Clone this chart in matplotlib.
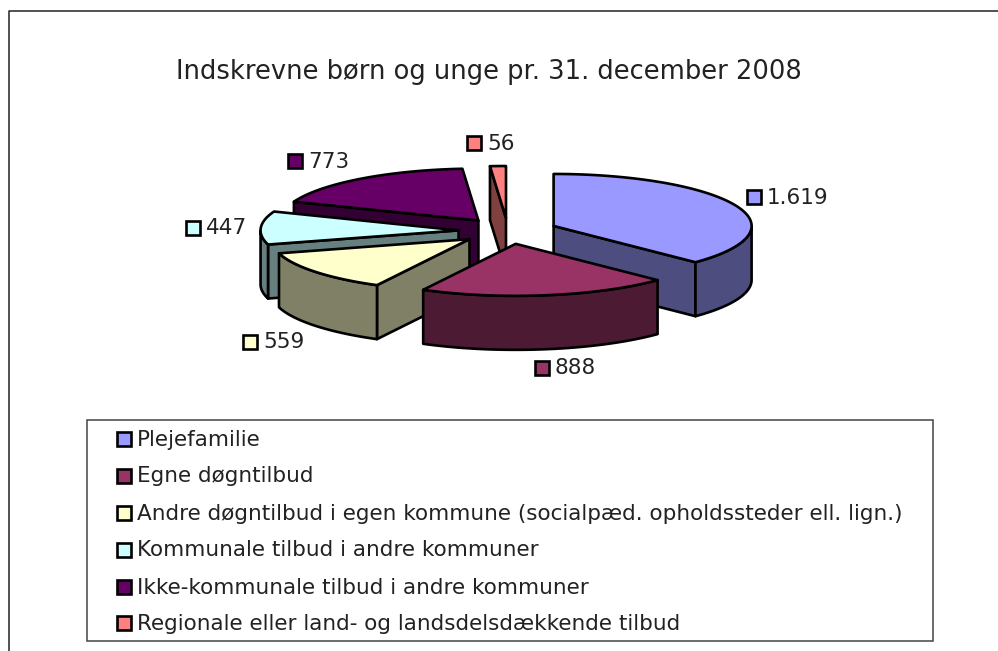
import numpy as np
import matplotlib
matplotlib.use("Agg")
import matplotlib.pyplot as plt
from matplotlib.patches import Polygon, Rectangle

# data
categories = ["Plejefamilie", "Egne døgntilbud",
              "Andre døgntilbud i egen kommune (socialpæd. opholdssteder ell. lign.)",
              "Kommunale tilbud i andre kommuner",
              "Ikke-kommunale tilbud i andre kommuner",
              "Regionale eller land- og landsdelsdækkende tilbud"]
values = [1619, 888, 559, 447, 773, 56]
value_labels = ["1.619", "888", "559", "447", "773", "56"]
title = "Indskrevne børn og unge pr. 31. december 2008"

# farver
top_colors = ["#9999FF", "#993366", "#FFFFCC", "#CCFFFF", "#660066", "#FF8080"]
side_colors = ["#4D4D80", "#4D1A33", "#808066", "#668080", "#330033", "#804040"]

# layout in pixels
cx, cy = 508, 231
rx, ry = 198, 52
depth = 54
explode = 0.25
label_pos = [(754, 197), (542, 368), (250, 342), (193, 228), (295, 161), (474, 143)]
legend_y = [439, 476, 513, 550, 587, 623]
draw_order = [5, 4, 3, 2, 0, 1]
FS = 15.5

plt.rcParams['font.family'] = ['DejaVu Sans']
fig = plt.figure(figsize=(9.98, 6.51), dpi=100)
ax = fig.add_axes([0, 0, 1, 1])
ax.set_xlim(0, 998)
ax.set_ylim(651, 0)
ax.axis("off")

# outer frame, runs off the picture right and bottom
ax.plot([9.5, 9.5, 998], [651, 10.5, 10.5], color="#333333", lw=1.2)

ax.text(488.5, 72, title, ha="center", va="center", fontsize=18.5, color="#222222")


def rim(angles, ox, oy, dy=0):
    rad = np.radians(angles)
    return np.column_stack([ox + rx * np.sin(rad), oy - ry * np.cos(rad) + dy])


def face(points, color, z):
    ax.add_patch(Polygon(points, closed=True, facecolor=color, edgecolor="black",
                         lw=1.9, joinstyle="round", zorder=z))


angles = np.cumsum([0] + values) / sum(values) * 360
for z, i in enumerate(draw_order):
    a, b = angles[i], angles[i + 1]
    mid = np.radians((a + b) / 2)
    ox = cx + explode * rx * np.sin(mid)
    oy = cy - explode * ry * np.cos(mid)
    base = z * 10 + 2
    apex = np.array([ox, oy])
    down = np.array([0, depth])
    mid_pt = rim([(a + b) / 2], ox, oy)[0]
    # the flat cut faces, only those turned to the viewer
    for ang in (a, b):
        end = rim([ang], ox, oy)[0]
        e = end - apex
        m = mid_pt - apex
        # wedge lies above the edge on screen -> face is visible
        at_x = e[1] * (m[0] / e[0]) if abs(e[0]) > 1e-6 else 0
        if abs(e[0]) > 1e-6 and m[1] < at_x:
            face([apex, end, end + down, apex + down], side_colors[i], base)
    # curved outer wall
    lo, hi = max(a, 90), min(b, 270)
    if lo < hi:
        arc = np.linspace(lo, hi, 60)
        upper = rim(arc, ox, oy)
        lower = rim(arc, ox, oy, depth)
        face(np.vstack([upper, lower[::-1]]), side_colors[i], base + 1)
    # top
    arc = np.linspace(a, b, 120)
    face(np.vstack([apex, rim(arc, ox, oy)]), top_colors[i], base + 2)


def swatch(x, y, color):
    ax.add_patch(Rectangle((x - 7, y - 7), 14, 14, facecolor=color,
                           edgecolor="black", lw=1.9, zorder=100))


# value labels
for (x, y), txt, col in zip(label_pos, value_labels, top_colors):
    swatch(x, y, col)
    ax.text(x + 13, y + 0.5, txt, ha="left", va="center", fontsize=FS, color="#222222", zorder=100)

# legend
ax.add_patch(Rectangle((87, 419.5), 846, 221, facecolor="white", edgecolor="#444444", lw=1.1))
for y, name, col in zip(legend_y, categories, top_colors):
    swatch(124.5, y, col)
    ax.text(137, y + 0.5, name, ha="left", va="center", fontsize=FS, color="#222222", zorder=100)

fig.savefig("out.png", dpi=100)
